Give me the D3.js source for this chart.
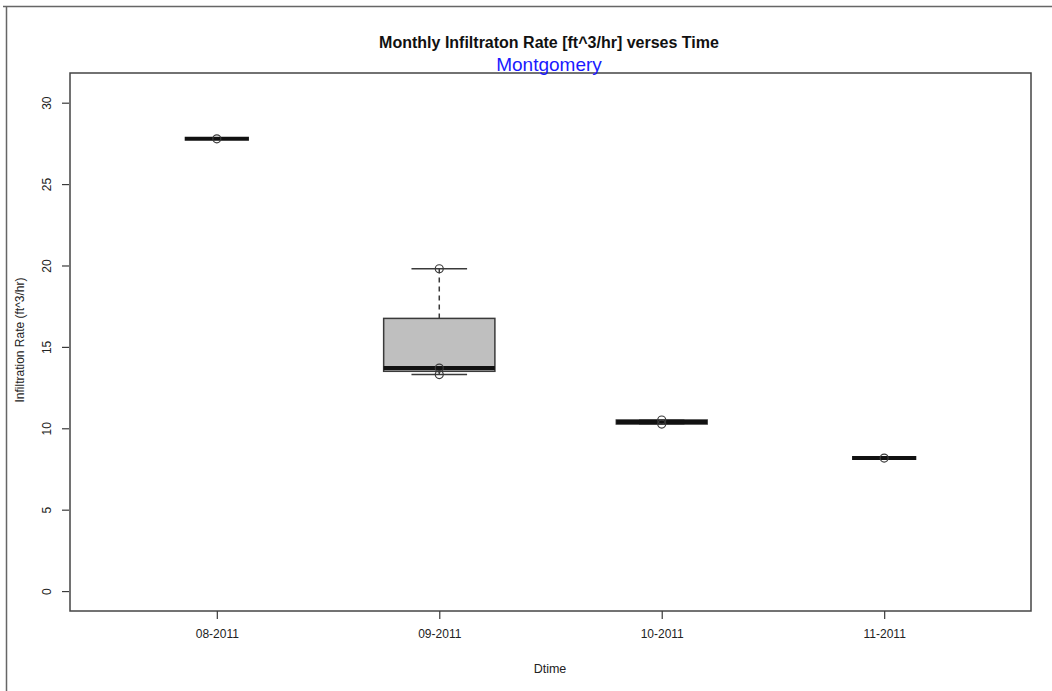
<!DOCTYPE html>
<html>
<head>
<meta charset="utf-8">
<script src="https://cdn.jsdelivr.net/npm/d3@7/dist/d3.min.js"></script>
<style>
  html, body { margin: 0; padding: 0; background: #fff; }
  svg { display: block; font-family: "Liberation Sans", Arial, sans-serif; }
</style>
</head>
<body>
<svg id="chart" width="1052" height="691"></svg>
<script>
// ---- data ----
const categories = ["08-2011", "09-2011", "10-2011", "11-2011"];
const obs0811 = [27.78];
const obs0911 = [13.3, 13.7, 19.8];
const obs1011 = [10.26, 10.51];
const obs1111 = [8.17];
const observations = [obs0811, obs0911, obs1011, obs1111];
const yTicks = [0, 5, 10, 15, 20, 25, 30];

const titleText = "Monthly Infiltraton Rate [ft^3/hr] verses Time";
const subtitleText = "Montgomery";
const xLabel = "Dtime";
const yLabel = "Infiltration Rate (ft^3/hr)";

// ---- helpers (R fivenum) ----
function fivenum(arr) {
  const x = arr.slice().sort((a, b) => a - b);
  const n = x.length;
  const n4 = Math.floor((n + 3) / 2) / 2;
  const d = [1, n4, (n + 1) / 2, n + 1 - n4, n];
  return d.map(v => 0.5 * (x[Math.floor(v) - 1] + x[Math.ceil(v) - 1]));
}

// ---- layout ----
const svg = d3.select("#chart");
const plot = { left: 70, right: 1031, top: 73, bottom: 611 };

const x = d3.scaleLinear().domain([0.34, 4.66]).range([plot.left, plot.right]);
const y = d3.scaleLinear().domain([-1.224, 31.824]).range([plot.bottom, plot.top]);

const ink = "#3a3a3a";

// outer frame
svg.append("path")
  .attr("d", `M3,6.5 H1052 M6.5,6 V691`)
  .attr("stroke", "#666").attr("stroke-width", 1.5).attr("fill", "none");

// plot box
svg.append("rect")
  .attr("x", plot.left).attr("y", plot.top)
  .attr("width", plot.right - plot.left).attr("height", plot.bottom - plot.top)
  .attr("fill", "none").attr("stroke", "#444").attr("stroke-width", 1.5);

// y axis
const yAxis = d3.axisLeft(y).tickValues(yTicks).tickSize(7).tickSizeOuter(0);
const gy = svg.append("g").attr("transform", `translate(${plot.left - 1},0)`).call(yAxis);
gy.select(".domain").remove();
gy.selectAll(".tick line").attr("stroke", ink).attr("stroke-width", 1.2);
gy.selectAll(".tick text")
  .attr("font-size", 12).attr("fill", "#222")
  .attr("text-anchor", "middle")
  .attr("transform", "translate(-22,0) rotate(-90)")
  .attr("x", 0).attr("y", 0).attr("dy", "0.35em");

// x axis
const xAxis = d3.axisBottom(x).tickValues([1, 2, 3, 4]).tickFormat((d) => categories[d - 1]).tickSize(8).tickPadding(10).tickSizeOuter(0);
const gx = svg.append("g").attr("transform", `translate(0,${plot.bottom})`).call(xAxis);
gx.select(".domain").remove();
gx.selectAll(".tick line").attr("stroke", ink).attr("stroke-width", 1.2);
gx.selectAll(".tick text").attr("font-size", 12).attr("fill", "#222");

// titles
svg.append("text").attr("x", 549).attr("y", 48).attr("text-anchor", "middle")
  .attr("font-size", 16).attr("font-weight", "bold").attr("fill", "#111").text(titleText);
svg.append("text").attr("x", 549).attr("y", 71).attr("text-anchor", "middle")
  .attr("font-size", 19).attr("fill", "#1a1aff").text(subtitleText);
svg.append("text").attr("x", 550).attr("y", 673).attr("text-anchor", "middle")
  .attr("font-size", 12.5).attr("fill", "#222").text(xLabel);
svg.append("text").attr("transform", "translate(24,340) rotate(-90)").attr("text-anchor", "middle")
  .attr("font-size", 12).attr("fill", "#222").text(yLabel);

// boxes (varwidth, boxwex 0.5)
const maxSqrt = d3.max(observations, o => Math.sqrt(o.length));
const g = svg.append("g");
observations.forEach((o, i) => {
  const pos = i + 1;
  const s = fivenum(o);
  const hw = 0.25 * Math.sqrt(o.length) / maxSqrt;
  const x0 = x(pos - hw), x1 = x(pos + hw);
  const xc = x(pos);
  const sx0 = x(pos - hw / 2), sx1 = x(pos + hw / 2);
  // whiskers (dashed)
  if (s[4] > s[3]) g.append("line").attr("x1", xc).attr("x2", xc).attr("y1", y(s[3])).attr("y2", y(s[4]))
    .attr("stroke", ink).attr("stroke-width", 1.5).attr("stroke-dasharray", "5,4");
  if (s[1] > s[0]) g.append("line").attr("x1", xc).attr("x2", xc).attr("y1", y(s[1])).attr("y2", y(s[0]))
    .attr("stroke", ink).attr("stroke-width", 1.5).attr("stroke-dasharray", "5,4");
  // staples
  g.append("line").attr("x1", sx0).attr("x2", sx1).attr("y1", y(s[4])).attr("y2", y(s[4]))
    .attr("stroke", ink).attr("stroke-width", 1.5);
  g.append("line").attr("x1", sx0).attr("x2", sx1).attr("y1", y(s[0])).attr("y2", y(s[0]))
    .attr("stroke", ink).attr("stroke-width", 1.5);
  // box
  g.append("rect").attr("x", x0).attr("y", y(s[3])).attr("width", x1 - x0)
    .attr("height", Math.max(0, y(s[1]) - y(s[3])))
    .attr("fill", "#bfbfbf").attr("stroke", ink).attr("stroke-width", 1.5);
  // median
  g.append("line").attr("x1", x0).attr("x2", x1).attr("y1", y(s[2])).attr("y2", y(s[2]))
    .attr("stroke", "#111").attr("stroke-width", 4);
  // points
  o.forEach(v => {
    g.append("circle").attr("cx", xc).attr("cy", y(v)).attr("r", 4)
      .attr("fill", "none").attr("stroke", ink).attr("stroke-width", 1.2);
  });
});
</script>
</body>
</html>
